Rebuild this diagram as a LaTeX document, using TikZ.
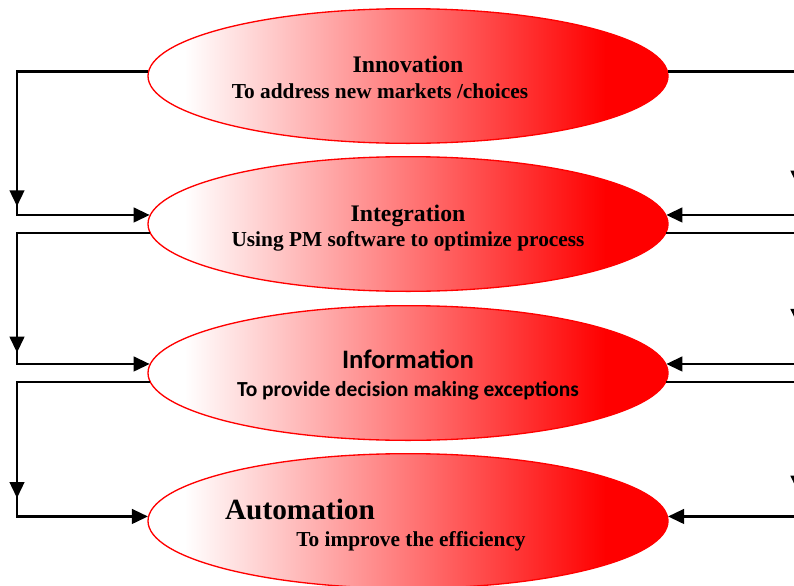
\documentclass[tikz,border=0pt]{standalone}
\usepackage{fontspec}
\setmainfont{Liberation Serif}
\newfontfamily\calibri{Carlito}
\usetikzlibrary{arrows.meta,calc,decorations.markings,positioning,shapes.geometric}
\tikzset{>={Triangle[length=12pt,width=11pt]}}
\pgfdeclarehorizontalshading{redfade}{100bp}{color(0bp)=(white); color(28.5bp)=(white); color(69bp)=(red); color(100bp)=(red)}
\tikzset{stage/.style={ellipse, draw=red, line width=1pt, shading=redfade, minimum width=390pt, minimum height=101pt, inner sep=0pt}}
\tikzset{link/.style={line width=1.7pt}}
\tikzset{midarrow/.style={postaction={decorate}, decoration={markings, mark=at position #1 with {\arrow{>}}}}}
\tikzset{title/.style={font=\bfseries\fontsize{17.8}{21}\selectfont, anchor=base, inner sep=0pt}}
\tikzset{sub/.style={font=\bfseries\fontsize{16}{19}\selectfont, anchor=base, inner sep=0pt}}

\begin{document}
\begin{tikzpicture}[x=0.75pt,y=-0.75pt]
      \useasboundingbox (0,0) rectangle (794,586);
      \clip (0,0) rectangle (794,586);
      \node[stage] (inno) at (408,76) {};
      \node[stage] (integ) at (408,224) {};
      \node[stage] (info) at (408,373) {};
      \node[stage] (auto) at (408,521) {};
      \coordinate (lft) at (17,0);
      \coordinate (rgt) at (798,0);
      \draw[link,->,midarrow=-106pt] (inno.179) -| (lft |- integ.178) -- (integ.178);
      \draw[link,->,midarrow=-108pt] (integ.182) -| (lft |- info.178) -- (info.178);
      \draw[link,->,midarrow=-112pt] (info.182) -| (lft |- auto.179) -- (auto.179);
      \draw[link,->,midarrow=-120pt] (inno.1) -| (rgt |- integ.2) -- (integ.2);
      \draw[link,->,midarrow=-128pt] (integ.-2) -| (rgt |- info.2) -- (info.2);
      \draw[link,->,midarrow=-116pt] (info.-2) -| (rgt |- auto.1) -- (auto.1);
      \node[title] (innoT) at (408,72) {Innovation};
      \node[sub] (innoS) at (380,98) {To address new markets /choices};
      \node[title] (integT) at (408,221) {Integration};
      \node[sub] (integS) at (408,246) {Using PM software to optimize process};
      \node[title,font=\calibri\bfseries\fontsize{20}{24}\selectfont] (infoT) at (408,368) {Information};
      \node[sub,font=\calibri\bfseries\fontsize{16.1}{19}\selectfont] (infoS) at (408,396) {To provide decision making exceptions};
      \node[title,font=\bfseries\fontsize{22}{26}\selectfont] (autoT) at (300,519) {Automation};
      \node[sub] (autoS) at (411,546) {To improve the efficiency};
    \end{tikzpicture}
\end{document}
